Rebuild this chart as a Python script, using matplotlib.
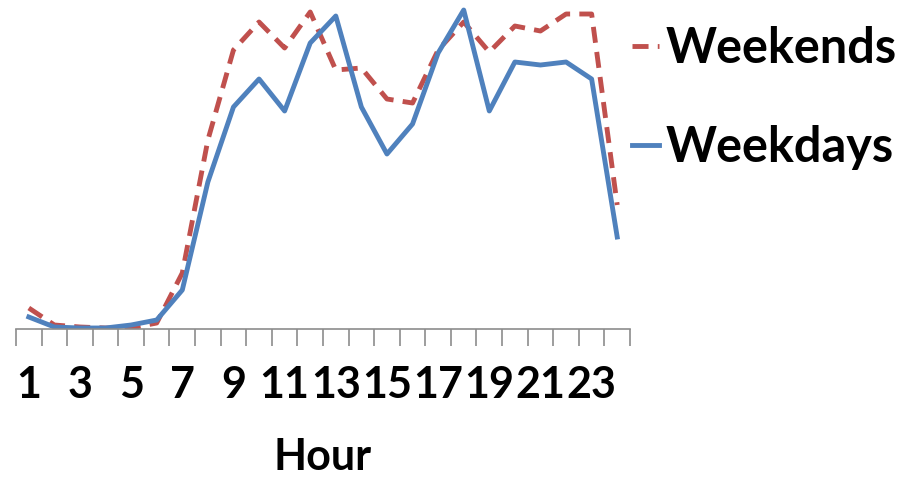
import numpy as np
import matplotlib
matplotlib.use('Agg')
from matplotlib import pyplot as plt

hours = list(range(1, 25))
weekdays = [12, 2, 1, 1, 4, 9, 39, 147, 222, 250, 218, 286,
            313, 222, 175, 205, 276, 319, 218, 267, 264, 267, 250, 92]
weekends = [21, 4, 2, 1, 1, 6, 56, 189, 279, 307, 281, 317,
            259, 261, 230, 226, 279, 307, 277, 303, 298, 315, 315, 124]
tick_labels = [str(h) for h in hours[::2]]

plt.rcParams['font.family'] = ['Lato', 'DejaVu Sans']

fig = plt.figure(figsize=(9.02, 4.79), dpi=100)
ax = fig.add_axes([16 / 902, (479 - 329) / 479, (630 - 16) / 902, 324 / 479])

ax.plot(hours, weekends, color='#C0504D', lw=3.5, ls=(0, (3.3, 1.9)),
        label='Weekends')
ax.plot(hours, weekdays, color='#4F81BD', lw=3.5, label='Weekdays')

ax.set_xlim(0.5, 24.5)
ax.set_ylim(0, 324)
for s in ['top', 'right', 'left']:
    ax.spines[s].set_visible(False)
ax.spines['bottom'].set_color('#8c8c8c')
ax.spines['bottom'].set_linewidth(1.2)
ax.set_yticks([])

ax.set_xticks(np.arange(0.5, 25, 1), minor=True)
ax.tick_params(axis='x', which='minor', length=12, width=1.2,
               color='#8c8c8c', direction='out')
ax.set_xticks(hours[::2])
ax.set_xticklabels(tick_labels, fontsize=31, fontweight='bold')
ax.tick_params(axis='x', which='major', length=0, pad=26)
ax.set_xlabel('Hour', fontsize=31, fontweight='bold', labelpad=23)

ax.legend(loc='upper left', bbox_to_anchor=(1.003, 0.935), frameon=False,
          prop={'size': 35, 'weight': 'bold'}, handlelength=0.55,
          handletextpad=0.15, labelspacing=1.1, borderaxespad=0,
          borderpad=0)

fig.savefig('out.png', dpi=100, facecolor='white')
